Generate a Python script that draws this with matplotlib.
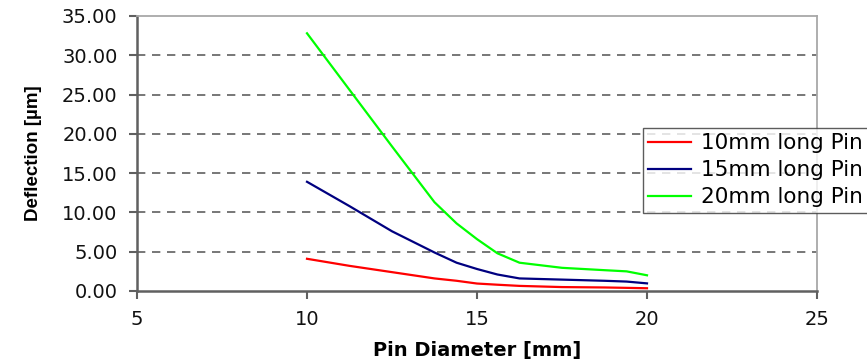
import numpy as np
from matplotlib import pyplot as plt

# pin diameters [mm]
diametre = [10, 11.25, 12.5, 13.75, 14.4, 15, 15.6, 16.25, 17.5, 18.75, 19.4, 20]
# deflection [um] for each pin length
pin_10 = [4.1, 3.2, 2.4, 1.6, 1.3, 0.95, 0.8, 0.65, 0.5, 0.45, 0.4, 0.35]
pin_15 = [13.9, 10.8, 7.6, 4.9, 3.6, 2.8, 2.1, 1.6, 1.45, 1.3, 1.2, 0.97]
pin_20 = [32.8, 25.6, 18.4, 11.3, 8.6, 6.6, 4.8, 3.6, 2.95, 2.65, 2.5, 2.0]
noms = ['10mm long Pin', '15mm long Pin', '20mm long Pin']
couleurs = ['#ff0000', '#000080', '#00ff00']

plt.rcParams['font.family'] = 'DejaVu Sans'

fig = plt.figure(figsize=(8.67, 3.61), dpi=100)
ax = fig.add_axes([137/867, 70/361, 680/867, 275/361])

for serie, nom, c in zip([pin_10, pin_15, pin_20], noms, couleurs):
    ax.plot(diametre, serie, color=c, lw=1.6, label=nom)

ax.set_xlim(5, 25)
ax.set_ylim(0, 35)
ax.set_xticks([5, 10, 15, 20, 25])
ax.set_yticks(np.arange(0, 36, 5))
ax.set_yticklabels(['%.2f' % v for v in np.arange(0, 36, 5)])
ax.tick_params(labelsize=14, colors='#606060', labelcolor='#111111', length=6, width=1.5)
ax.tick_params(axis='x', pad=8)
ax.tick_params(axis='y', pad=8)

for y in range(5, 35, 5):
    ax.axhline(y, color='#606060', lw=1.2, ls=(0, (5, 4)), zorder=0)

for s in ['left', 'bottom']:
    ax.spines[s].set_color('#606060')
    ax.spines[s].set_linewidth(1.8)
for s in ['top', 'right']:
    ax.spines[s].set_color('#a8a8a8')
    ax.spines[s].set_linewidth(1.3)

ax.set_xlabel('Pin Diameter [mm]', fontsize=14, fontweight='bold', labelpad=8)
ax.set_ylabel('Deflection [µm]', fontsize=13.5, fontweight='bold',
              family='Liberation Sans', labelpad=14)

leg = fig.legend(loc='upper left', bbox_to_anchor=(643/867, 1 - 128/361),
                 fontsize=15.5, frameon=True, fancybox=False, edgecolor='#333333',
                 handlelength=2.0, handletextpad=0.45, labelspacing=0.32,
                 borderpad=0.25, borderaxespad=0)
leg.get_frame().set_linewidth(1.0)

plt.savefig('out.png', dpi=100)
